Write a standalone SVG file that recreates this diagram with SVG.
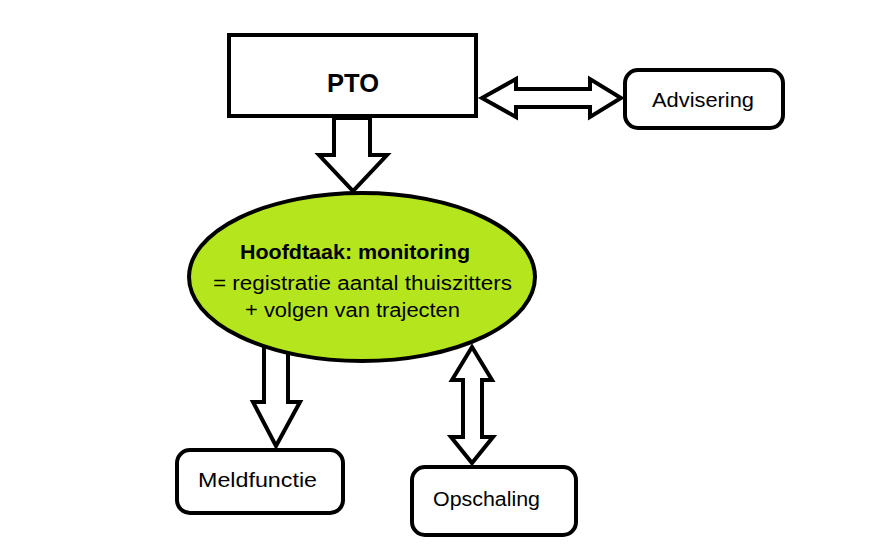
<svg xmlns="http://www.w3.org/2000/svg" width="878" height="555" viewBox="0 0 878 555">
<style>
.arrow{fill:#fff;stroke:#000;stroke-width:4;stroke-linejoin:miter}
.box{fill:#fff;stroke:#000;stroke-width:4}
.t{font-family:"Liberation Sans",Arial,sans-serif;fill:#000}
</style>
<rect width="878" height="555" fill="#fff"/>
<g id="connectors">
<polygon class="arrow" points="334,118 334,155 319,155 353,191 387,155 370,155 370,118"/>
<polygon class="arrow" points="482,98 516,79 516,89 590,89 590,79 621,98 590,117 590,107 516,107 516,117"/>
<polygon class="arrow" points="264,345 264,402 253,402 276,446 300,402 288,402 288,345"/>
<polygon class="arrow" points="472,347 492,380 482,380 482,437 493,437 472,463 451,437 463,437 463,380 452,380"/>
</g>
<g id="pto">
<rect class="box" x="229" y="35" width="247" height="81"/>
<text class="t" x="353" y="92" font-size="25" font-weight="bold" text-anchor="middle" textLength="52" lengthAdjust="spacingAndGlyphs">PTO</text>
</g>
<g id="advisering">
<rect class="box" x="625" y="70" width="158" height="58" rx="13"/>
<text class="t" x="652" y="107" font-size="20" textLength="102" lengthAdjust="spacingAndGlyphs">Advisering</text>
</g>
<g id="hoofdtaak">
<ellipse cx="362" cy="277" rx="173" ry="84" fill="#b5e61d" stroke="#000" stroke-width="4"/>
<text class="t" x="240" y="259" font-size="20" font-weight="bold" textLength="230" lengthAdjust="spacingAndGlyphs">Hoofdtaak: monitoring</text>
<text class="t" x="213" y="290" font-size="20" textLength="299" lengthAdjust="spacingAndGlyphs">= registratie aantal thuiszitters</text>
<text class="t" x="245" y="317" font-size="20" textLength="215" lengthAdjust="spacingAndGlyphs">+ volgen van trajecten</text>
</g>
<g id="meldfunctie">
<rect class="box" x="177" y="450" width="166" height="63" rx="13"/>
<text class="t" x="198" y="487" font-size="20" textLength="119" lengthAdjust="spacingAndGlyphs">Meldfunctie</text>
</g>
<g id="opschaling">
<rect class="box" x="412" y="467" width="164" height="68" rx="13"/>
<text class="t" x="433" y="506" font-size="20" textLength="107" lengthAdjust="spacingAndGlyphs">Opschaling</text>
</g>
</svg>
